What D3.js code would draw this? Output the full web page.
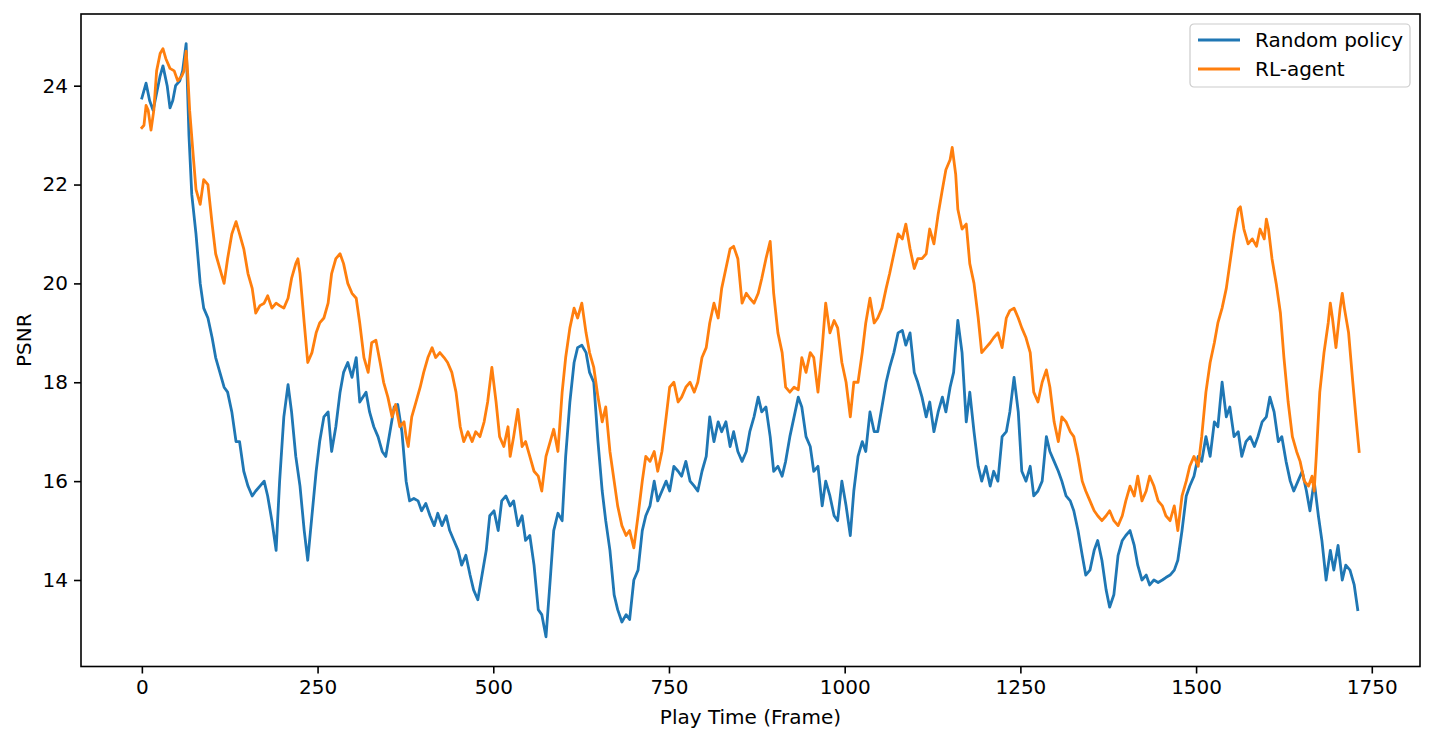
<!DOCTYPE html>
<html>
<head>
<meta charset="utf-8">
<script src="https://cdn.jsdelivr.net/npm/d3@7"></script>
<style>
  body { margin: 0; background: #fff; }
  #chart { width: 1434px; height: 741px; }
  text { font-family: "DejaVu Sans", sans-serif; }
</style>
</head>
<body>
<div id="chart"></div>
<script>
// Random policy (blue) - frame / PSNR pairs
var randomFrames = [0,6,11,16,26,30,36,40,44,48,54,58,63,67,71,77,83,88,94,100,105,111,117,122,128,134,139,145,151,157,162,168,174,179,185,191,196,202,208,213,219,225,231,236,242,248,253,259,265,270,276,282,287,293,299,305,310,319,324,330,336,342,347,353,359,364,370,376,381,387,393,398,404,410,416,421,427,433,438,444,450,455,461,467,472,478,484,490,495,501,507,512,518,524,529,535,541,546,552,558,564,569,575,581,586,592,598,603,609,615,620,626,632,637,643,649,655,660,666,672,677,683,689,694,700,706,712,717,723,729,734,740,746,751,757,763,768,774,780,786,791,797,803,808,814,820,825,831,837,842,848,854,860,865,871,877,882,888,894,899,905,911,916,922,928,934,939,945,951,956,962,968,973,979,985,990,996,1002,1008,1013,1019,1025,1030,1036,1042,1047,1053,1059,1064,1070,1076,1082,1087,1093,1099,1104,1110,1116,1121,1127,1133,1139,1144,1150,1155,1161,1167,1173,1178,1184,1190,1195,1201,1207,1212,1218,1224,1230,1235,1241,1247,1252,1258,1264,1269,1275,1281,1287,1292,1298,1304,1309,1315,1321,1326,1332,1338,1343,1349,1355,1360,1366,1372,1377,1383,1389,1395,1400,1406,1412,1417,1423,1429,1434,1440,1446,1452,1457,1463,1469,1474,1480,1486,1491,1497,1503,1508,1514,1520,1526,1531,1537,1543,1548,1554,1560,1565,1571,1577,1583,1588,1594,1600,1605,1611,1617,1622,1628,1634,1639,1645,1651,1657,1662,1668,1674,1679,1685,1691,1696,1702,1708,1713,1719,1725,1730];
var randomPsnr = [23.75,24.05,23.7,23.5,24.2,24.4,24.0,23.55,23.7,24.0,24.1,24.3,24.85,23.0,21.8,21.0,20.0,19.5,19.3,18.9,18.5,18.2,17.9,17.8,17.4,16.8,16.8,16.2,15.9,15.7,15.8,15.9,16.0,15.7,15.2,14.6,16.0,17.3,17.95,17.4,16.5,15.9,15.0,14.4,15.3,16.2,16.8,17.3,17.4,16.6,17.1,17.8,18.2,18.4,18.1,18.5,17.6,17.8,17.4,17.1,16.9,16.6,16.5,17.0,17.5,17.55,17.0,16.0,15.6,15.65,15.6,15.4,15.55,15.3,15.1,15.35,15.1,15.3,15.0,14.8,14.6,14.3,14.5,14.1,13.8,13.6,14.1,14.6,15.3,15.4,15.0,15.6,15.7,15.5,15.6,15.1,15.3,14.8,14.9,14.3,13.4,13.3,12.85,14.0,15.0,15.35,15.2,16.5,17.6,18.4,18.7,18.75,18.6,18.2,18.0,16.8,15.8,15.2,14.6,13.7,13.4,13.15,13.3,13.2,14.0,14.2,15.0,15.3,15.5,16.0,15.6,15.8,16.0,15.8,16.3,16.2,16.1,16.4,16.0,15.9,15.8,16.2,16.5,17.3,16.8,17.2,17.0,17.2,16.7,17.0,16.6,16.4,16.6,17.0,17.3,17.7,17.4,17.5,16.9,16.2,16.3,16.1,16.4,16.9,17.3,17.7,17.5,16.9,16.7,16.2,16.3,15.5,16.0,15.7,15.3,15.2,16.0,15.5,14.9,15.8,16.5,16.8,16.6,17.4,17.0,17.0,17.5,18.0,18.3,18.6,19.0,19.05,18.75,19.0,18.2,18.0,17.7,17.3,17.6,17.0,17.4,17.7,17.4,17.9,18.2,19.25,18.6,17.2,17.8,17.0,16.3,16.0,16.3,15.9,16.2,16.0,16.9,17.0,17.4,18.1,17.4,16.2,16.0,16.3,15.7,15.8,16.0,16.9,16.6,16.4,16.2,16.0,15.7,15.6,15.4,15.0,14.5,14.1,14.2,14.6,14.8,14.4,13.8,13.45,13.7,14.5,14.8,14.9,15.0,14.7,14.3,14.0,14.1,13.9,14.0,13.95,14.0,14.05,14.1,14.2,14.4,15.0,15.7,15.9,16.1,16.5,16.4,16.9,16.5,17.2,17.1,18.0,17.3,17.5,16.9,17.0,16.5,16.8,16.9,16.7,16.9,17.2,17.3,17.7,17.4,16.8,16.9,16.4,16.0,15.8,16.0,16.2,15.8,15.4,16.0,15.3,14.8,14.0,14.6,14.2,14.7,14.0,14.3,14.2,13.9,13.4];

// RL-agent (orange)
var agentFrames = [0,3,6,9,13,17,21,26,30,34,40,46,51,57,60,63,65,68,73,77,83,88,94,100,105,111,117,122,128,134,139,145,151,157,162,168,174,179,185,191,196,202,208,213,219,222,225,231,236,242,248,253,259,265,270,276,282,287,293,299,305,310,316,322,327,333,339,344,350,356,361,367,373,376,379,384,390,396,401,407,413,418,424,430,435,441,447,453,458,464,470,475,481,487,492,498,504,509,515,521,524,529,535,541,546,552,558,564,569,575,581,586,592,598,603,609,615,620,626,632,637,643,649,655,660,666,672,677,683,689,694,700,706,712,717,723,729,734,740,746,751,757,763,768,774,780,786,791,797,803,808,814,820,825,831,837,842,848,854,860,865,871,877,882,888,894,899,905,911,916,922,928,934,939,945,951,956,962,968,973,979,985,990,996,1002,1008,1013,1019,1025,1030,1036,1042,1047,1053,1059,1064,1070,1076,1082,1087,1093,1099,1104,1110,1116,1121,1127,1133,1139,1144,1150,1153,1158,1161,1167,1173,1178,1184,1190,1195,1201,1207,1212,1218,1224,1230,1235,1241,1247,1252,1258,1264,1269,1275,1281,1287,1292,1298,1304,1309,1315,1321,1326,1332,1338,1343,1349,1355,1360,1366,1372,1377,1383,1389,1395,1400,1406,1412,1417,1423,1429,1434,1440,1446,1452,1457,1463,1469,1474,1480,1486,1491,1497,1503,1508,1514,1520,1526,1531,1537,1543,1548,1554,1560,1563,1568,1574,1580,1586,1591,1597,1600,1603,1608,1614,1620,1625,1631,1637,1643,1648,1654,1660,1665,1668,1671,1676,1682,1688,1691,1694,1699,1705,1708,1711,1717,1723,1728,1732];
var agentPsnr = [23.15,23.2,23.6,23.5,23.1,23.5,24.3,24.65,24.75,24.55,24.35,24.3,24.1,24.2,24.3,24.7,24.3,23.5,22.6,21.9,21.6,22.1,22.0,21.2,20.6,20.3,20.0,20.5,21.0,21.25,21.0,20.7,20.2,19.9,19.4,19.55,19.6,19.75,19.5,19.6,19.55,19.5,19.7,20.1,20.4,20.5,20.2,19.2,18.4,18.6,19.0,19.2,19.3,19.6,20.2,20.5,20.6,20.4,20.0,19.8,19.7,19.2,18.5,18.2,18.8,18.85,18.4,18.0,17.7,17.3,17.55,17.1,17.2,16.9,16.7,17.3,17.6,17.9,18.2,18.5,18.7,18.5,18.6,18.5,18.4,18.2,17.8,17.1,16.8,17.0,16.8,17.0,16.9,17.2,17.6,18.3,17.6,16.9,16.7,17.1,16.5,16.9,17.45,16.7,16.8,16.5,16.2,16.1,15.8,16.5,16.8,17.05,16.6,17.8,18.5,19.1,19.5,19.3,19.6,19.0,18.6,18.3,17.7,17.2,17.5,16.6,16.0,15.5,15.1,14.9,15.0,14.65,15.3,16.0,16.5,16.4,16.6,16.2,16.6,17.3,17.9,18.0,17.6,17.7,17.9,18.0,17.8,18.0,18.5,18.7,19.2,19.6,19.3,19.9,20.3,20.7,20.75,20.5,19.6,19.8,19.7,19.6,19.8,20.1,20.5,20.85,19.8,19.0,18.6,17.9,17.8,17.9,17.85,18.5,18.2,18.6,18.5,17.8,18.7,19.6,19.0,19.25,19.1,18.4,18.0,17.3,18.0,18.0,18.6,19.2,19.7,19.2,19.3,19.5,19.9,20.2,20.6,21.0,20.9,21.2,20.7,20.3,20.5,20.5,20.6,21.1,20.8,21.4,21.9,22.3,22.5,22.75,22.2,21.5,21.1,21.2,20.4,20.0,19.3,18.6,18.7,18.8,18.9,19.0,18.7,19.3,19.45,19.5,19.3,19.1,18.9,18.6,17.8,17.6,18.0,18.25,17.9,17.2,16.8,17.3,17.2,17.0,16.9,16.5,16.0,15.8,15.6,15.4,15.3,15.2,15.3,15.4,15.2,15.1,15.3,15.6,15.9,15.7,16.1,15.6,15.8,16.1,15.9,15.6,15.5,15.3,15.2,15.5,15.0,15.7,16.0,16.3,16.5,16.3,16.9,17.8,18.4,18.8,19.2,19.5,19.9,20.4,21.0,21.5,21.55,21.1,20.8,20.9,20.75,21.1,20.9,21.3,21.1,20.5,20.0,19.4,18.5,17.6,16.9,16.6,16.4,16.0,15.9,16.1,15.8,16.5,17.8,18.6,19.2,19.6,19.3,18.7,19.5,19.8,19.5,19.0,18.0,17.2,16.6];

var seriesNames = ["Random policy", "RL-agent"];
var seriesColors = ["#1f77b4", "#ff7f0e"];
var xTicks = [0, 250, 500, 750, 1000, 1250, 1500, 1750];
var yTicks = [14, 16, 18, 20, 22, 24];

var series = [
    { name: seriesNames[0], color: seriesColors[0], points: randomFrames.map(function(f, i) { return [f, randomPsnr[i]]; }) },
    { name: seriesNames[1], color: seriesColors[1], points: agentFrames.map(function(f, i) { return [f, agentPsnr[i]]; }) }
];

var width = 1434, height = 741;
var margin = { top: 14, right: 14, bottom: 74.5, left: 81 };
var innerW = width - margin.left - margin.right;
var innerH = height - margin.top - margin.bottom;

var svg = d3.select("#chart")
    .append("svg")
    .attr("width", width)
    .attr("height", height);

var g = svg.append("g")
    .attr("transform", "translate(" + margin.left + "," + margin.top + ")");

// matplotlib style 5% padding around the data
var allX = randomFrames.concat(agentFrames);
var allY = randomPsnr.concat(agentPsnr);
var xMin = d3.min(allX), xMax = d3.max(allX);
var yMin = d3.min(allY), yMax = d3.max(allY);
var xPad = (xMax - xMin) * 0.05, yPad = (yMax - yMin) * 0.05;

var x = d3.scaleLinear()
    .domain([xMin - xPad, xMax + xPad])
    .range([0, innerW]);

var y = d3.scaleLinear()
    .domain([yMin - yPad, yMax + yPad])
    .range([innerH, 0]);

var line = d3.line()
    .x(function(d) { return x(d[0]); })
    .y(function(d) { return y(d[1]); });

g.append("defs").append("clipPath")
    .attr("id", "clip")
    .append("rect")
    .attr("width", innerW)
    .attr("height", innerH);

g.append("g")
    .attr("clip-path", "url(#clip)")
    .selectAll("path")
    .data(series)
    .enter()
    .append("path")
    .attr("d", function(d) { return line(d.points); })
    .attr("fill", "none")
    .attr("stroke", function(d) { return d.color; })
    .attr("stroke-width", 2.8)
    .attr("stroke-linejoin", "round")
    .attr("stroke-linecap", "square");

// axes
var xAxis = g.append("g")
    .attr("transform", "translate(0," + innerH + ")")
    .call(d3.axisBottom(x).tickValues(xTicks).tickFormat(d3.format("d"))
        .tickSize(7).tickPadding(6).tickSizeOuter(0));

var yAxis = g.append("g")
    .call(d3.axisLeft(y).tickValues(yTicks).tickFormat(d3.format("d"))
        .tickSize(7).tickPadding(6).tickSizeOuter(0));

[xAxis, yAxis].forEach(function(a) {
    a.select(".domain").remove();
    a.selectAll(".tick line").attr("stroke", "#000").attr("stroke-width", 1.6);
    a.selectAll(".tick text")
        .attr("fill", "#000")
        .style("font-family", "'DejaVu Sans', sans-serif")
        .style("font-size", "20px");
});

// frame
g.append("rect")
    .attr("width", innerW)
    .attr("height", innerH)
    .attr("fill", "none")
    .attr("stroke", "#000")
    .attr("stroke-width", 1.6);

// axis labels
svg.append("text")
    .attr("x", margin.left + innerW / 2)
    .attr("y", 724)
    .attr("text-anchor", "middle")
    .style("font-size", "20px")
    .text("Play Time (Frame)");

svg.append("text")
    .attr("transform", "translate(31," + (margin.top + innerH / 2) + ") rotate(-90)")
    .attr("text-anchor", "middle")
    .style("font-size", "20px")
    .text("PSNR");

// legend
var legend = g.append("g")
    .attr("transform", "translate(" + (innerW - 10 - 220) + ",10)");

legend.append("rect")
    .attr("width", 220)
    .attr("height", 63)
    .attr("rx", 4)
    .attr("fill", "#fff")
    .attr("fill-opacity", 0.8)
    .attr("stroke", "#cccccc")
    .attr("stroke-width", 1.2);

var items = legend.selectAll(".item")
    .data(series)
    .enter()
    .append("g")
    .attr("class", "item")
    .attr("transform", function(d, i) { return "translate(0," + (16 + i * 29) + ")"; });

items.append("line")
    .attr("x1", 8)
    .attr("x2", 50)
    .attr("stroke", function(d) { return d.color; })
    .attr("stroke-width", 2.8);

items.append("text")
    .attr("x", 65)
    .attr("dy", "0.35em")
    .style("font-size", "20px")
    .text(function(d) { return d.name; });
</script>
</body>
</html>
